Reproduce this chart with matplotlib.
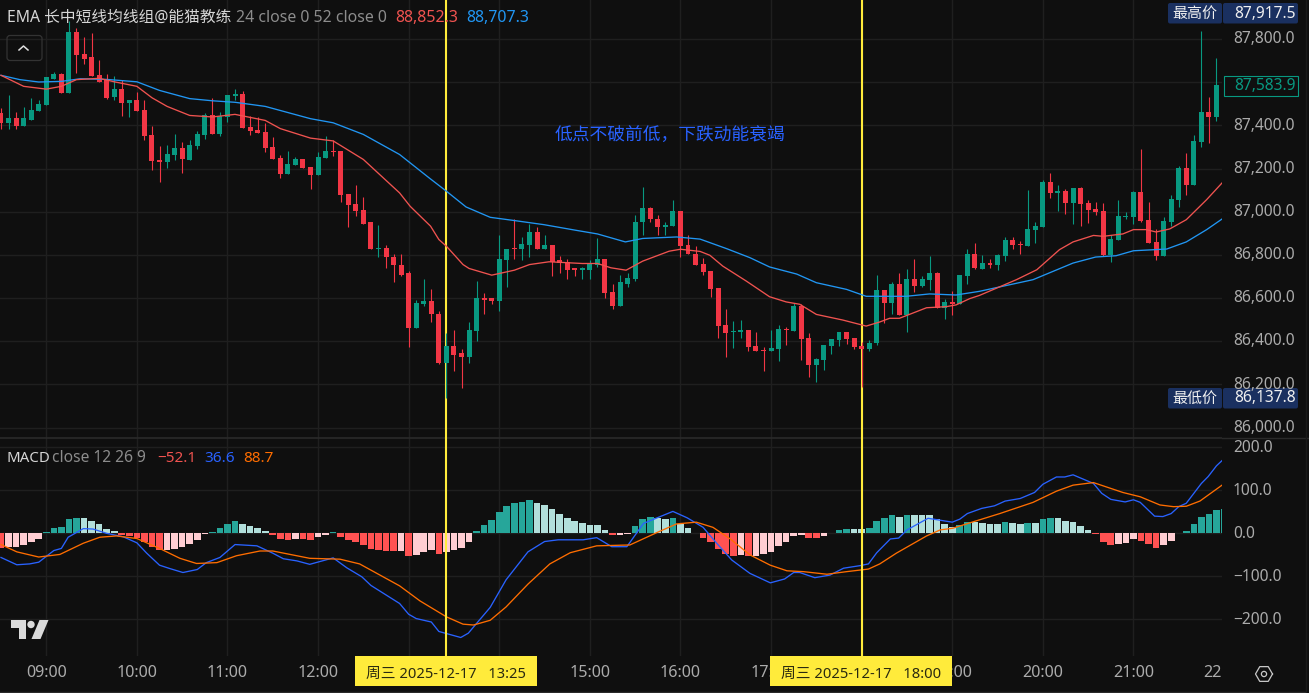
import matplotlib
matplotlib.use("Agg")
import matplotlib.pyplot as plt
from matplotlib.patches import Rectangle, FancyBboxPatch, Polygon, Circle
import numpy as np

plt.rcParams["font.family"] = ["Noto Sans", "Noto Sans CJK SC", "DejaVu Sans"]

# 5 minute bars, bar 0 is 09:00
opens = [87457,87411,87433,87396,87427,87465,87493,87616,87636,87548,87835,87729,87715,87632,87609,87530,87567,87502,87516,87470,
         87354,87238,87229,87261,87294,87241,87303,87354,87446,87358,87437,87534,87544,87391,87377,87368,87298,87247,87173,87215,
         87243,87206,87169,87247,87280,87280,87084,87038,87010,86950,86825,86834,86792,86755,86714,86463,86570,86584,86528,86297,
         86376,86343,86329,86445,86602,86598,86584,86778,86829,86825,86848,86908,86829,86848,86774,86765,86737,86732,86732,86755,
         86783,86626,86565,86667,86690,86950,87015,86968,86927,86936,87005,86848,86806,86756,86724,86645,86473,86441,86441,86450,
         86376,86358,86353,86362,86455,86446,86562,86413,86288,86312,86376,86404,86441,86413,86376,86362,86390,86636,86575,86663,
         86520,86687,86654,86682,86714,86552,86580,86571,86700,86802,86736,86764,86754,86796,86870,86852,86843,86917,86931,87139,
         87088,87097,87042,87111,87042,87014,87005,86801,86870,86977,86977,87093,86963,86861,86796,86954,87056,87204,87125,87324,
         87463,87440]
highs = [87480,87539,87462,87484,87525,87516,87622,87647,87642,87885,87851,87809,87829,87701,87639,87627,87609,87516,87553,87519,
         87396,87306,87307,87358,87321,87331,87372,87456,87525,87460,87539,87567,87558,87442,87437,87409,87344,87261,87280,87252,
         87243,87206,87275,87349,87331,87280,87084,87126,87070,86950,86940,86848,86802,86802,86723,86593,86686,86644,86542,86436,
         86450,86366,86487,86681,86621,86602,86890,86829,86968,86885,86945,86931,86890,86848,86797,86783,86737,86746,86774,86880,
         86783,86663,86709,86718,86987,87116,87024,86987,86950,87052,87005,86890,86843,86784,86724,86645,86548,86492,86497,86450,
         86441,86372,86450,86473,86464,86578,86571,86436,86321,86381,86409,86441,86441,86413,86395,86404,86705,86636,86673,86714,
         86733,86779,86701,86793,86719,86594,86631,86705,86826,86853,86801,86782,86806,86884,86884,86866,87102,86954,87148,87181,
         87125,87107,87111,87116,87056,87046,87042,86893,87056,87000,87097,87292,87046,86921,86977,87079,87213,87273,87357,87838,
         87533,87713]
lows = [87385,87385,87382,87396,87423,87465,87493,87613,87548,87548,87642,87683,87627,87601,87524,87516,87445,87437,87465,87331,
        87192,87136,87201,87238,87178,87238,87289,87335,87358,87349,87414,87516,87386,87354,87363,87275,87243,87155,87173,87215,
        87201,87104,87169,87247,87257,87043,86931,86978,86945,86825,86792,86737,86676,86704,86371,86463,86565,86491,86292,86139,
        86260,86185,86301,86403,86524,86570,86542,86653,86783,86774,86788,86825,86825,86704,86718,86690,86704,86690,86690,86746,
        86602,86547,86561,86649,86681,86894,86954,86894,86890,86936,86792,86802,86751,86705,86603,86413,86325,86367,86413,86353,
        86353,86260,86353,86307,86381,86446,86311,86233,86209,86265,86339,86376,86385,86362,86186,86353,86381,86483,86524,86520,
        86441,86626,86650,86636,86552,86501,86520,86571,86663,86733,86736,86741,86731,86773,86829,86805,86843,86856,86931,87065,
        87005,86991,86944,86935,86949,86986,86796,86768,86870,86968,86944,86954,86856,86778,86796,86935,87023,87079,87125,87301,
        87320,87421]
closes = [87411,87434,87396,87433,87470,87497,87622,87636,87548,87835,87724,87709,87627,87601,87528,87567,87502,87516,87465,87349,
          87233,87230,87266,87294,87243,87307,87358,87446,87358,87442,87539,87544,87386,87372,87363,87294,87243,87173,87220,87243,
          87201,87169,87252,87280,87275,87076,87033,87005,86945,86825,86834,86788,86751,86709,86463,86579,86584,86524,86297,86376,
          86338,86329,86450,86602,86593,86584,86783,86829,86825,86852,86908,86829,86848,86769,86760,86732,86732,86737,86760,86783,
          86621,86565,86672,86695,86954,87015,86964,86927,86940,87005,86843,86802,86751,86719,86640,86469,86436,86446,86450,86372,
          86353,86353,86367,86455,86450,86562,86409,86288,86316,86381,86409,86441,86409,86372,86362,86390,86636,86575,86663,86520,
          86687,86654,86687,86714,86552,86580,86571,86705,86802,86738,86764,86753,86801,86870,86847,86847,86921,86935,87139,87088,
          87097,87042,87111,87037,87009,87000,86801,86875,86981,86981,87093,86958,86856,86796,86958,87060,87204,87125,87329,87463,
          87440,87588]
first_bar = -6

ema24_x = [-6,-3,0,2,4,7,9,12,14,16,19,22,25,29,31,35,38,42,46.8,48.2,50.9,52,53,55.2,56,59,62,64,66.6,71,73,74.8,76.8,79,82.5,84,
           86.6,87.9,89.6,92.7,95.8,98,99.8,102,105.5,108.6,110.4,111.7,113,116.6,119.2,120.5,122.3,123.6,128.5,131.2,134.2,136,
           138.7,140,142.6,144,145.7,147,148.8,151,153.7,155.73]
ema24 = [87632,87581,87568,87581,87612,87618,87602,87581,87528,87488,87446,87439,87451,87423,87385,87341,87328,87242,87087,87025,
         86933,86871,86840,86755,86737,86706,86729,86755,86768,86760,86760,86740,86729,86771,86817,86826,86816,86798,86748,86679,
         86606,86582,86571,86524,86498,86470,86489,86506,86506,86555,86560,86568,86597,86612,86685,86731,86824,86860,86890,86886,
         86897,86917,86917,86906,86920,86963,87056,87133]
ema52_x = [-6,-3.5,-1,2,4.5,8,12,15,19,22,25,29,35,38,42,46.8,50.7,53,55.6,58.8,62,65.9,70.3,73,76.7,79,83.5,86.6,90.1,93.2,95.8,
           99.4,102,106,108.6,113.9,117,120.5,123.6,130.7,136,139,141.7,144,148.4,151,153.7,155.73]
ema52 = [87632,87612,87601,87604,87616,87613,87602,87562,87524,87514,87507,87488,87431,87412,87358,87265,87157,87095,87022,86974,
         86959,86940,86913,86897,86860,86876,86883,86873,86829,86787,86744,86711,86671,86640,86608,86608,86619,86614,86631,86685,
         86762,86790,86796,86819,86827,86860,86917,86966]

hist = [-33,-32.5,-32,-27,-20,-13,3,12,15,33,36,35.5,29,22,10,5,-4,-7,-11,-20,-32,-39,-38.5,-36,-32,-25,-15,-2,3,12,22,29,22,17,12,5,
        -4,-13,-15,-13,-13.5,-15,-9,-4,3,-9,-15,-20,-27,-36,-39,-41,-41.5,-41,-53,-50,-43,-39,-48,-43,-39,-34,-20,5,19,31,50,64,71,73,
        77,71,66,57,45,36,29,24,19,18.5,8,-4,-3.5,-2,17,33,38,36,33,36,22,12,1,-11,-20,-36,-48,-53,-50,-53,-52.5,-48,-43,-29,-20,-6,
        -4,-11,-11.5,-6,1,8,10,9.8,9.5,12,29,36,43,38,43,42.8,42.5,42,33,22,15,19,26,25.8,24,22,21.8,26,24,22,24,23.8,33,36,35.8,29,
        26,17,8,-2,-20,-27,-25,-22,-13,-18,-25,-34,-27,-18,1,5,22,38,45,54,57]
macd_x = [-6,-3.9,-2.2,-1,1,2,2.9,4.9,6.2,8,10.2,12,13.3,15,16.4,18.1,20,21.2,23,25,27.9,30,31.4,33.2,34.9,38,39.8,41.8,43,46.8,48,49,
          51,52,54.9,55.9,58.8,60.9,63.8,66,67.8,71.1,72.9,74.9,76.9,79.1,80.9,83,84.9,87,88.8,90.8,93.2,95.9,97.8,99,99.8,101.8,
          103.8,105.6,107.8,108.9,110,111.8,112.9,114,116.8,120,121,122,123.9,125.6,127,129,130.9,132,133.8,134.9,136,138.7,139.8,
          141,142.9,144,144.9,146.8,147.9,149,150,151,153,153.9,155,155.73]
macd = [-56,-73,-71,-67,-40,-35,-9,11,10,0,-8,-22,-46,-74,-82,-91,-84,-68,-56,-26,-29,-46,-59,-64,-72,-57,-80,-101,-121,-163,-188,-198,
        -206,-228,-242,-232,-172,-108,-43,-19,-15,-15,-10,-31,-31,23,36,51,36,14,-23,-62,-93,-115,-106,-91,-91,-103,-97,-81,-75,-71,
        -45,-13,-11,8,35,26,33,46,58,64,75,81,95,114,131,131,136,116,93,79,73,78,72,40,39,46,62,70,116,132,157,169]
signal_x = [-6,-3.9,-1,1.8,4.9,7.1,9.3,12,15,17.7,19.9,22.6,25.2,28.3,30,34.9,38.9,41.5,46.8,49.5,53,55.2,56.6,58.8,60.9,63.8,66.7,69.4,
            72.9,77.3,80.9,83.5,86.1,88.3,90.6,93.2,95.9,98.1,100.3,103.4,106,108.9,110.4,112.6,116.6,118.4,120.1,122.8,126.3,130.7,
            133.8,136,138.7,142.6,144.9,147.5,149.3,151,152.8,155.73]
signal = [-26,-43,-55,-49,-23,-9,-6,-12,-35,-58,-70,-68,-52,-41,-41,-58,-60,-71,-122,-157,-194,-211,-213,-202,-171,-118,-71,-45,-29,-27,
          2,22,26,14,-13,-50,-74,-87,-89,-95,-89,-83,-71,-46,-6,8,12,27,46,72,98,112,118,95,85,66,62,63,75,112]

price_ticks = [87800,87400,87200,87000,86800,86600,86400,86200,86000]
price_grid = [87800,87600,87400,87200,87000,86800,86600,86400,86200,86000]
macd_ticks = [200,100,0,-100,-200]
# 13:00, 14:00 and 18:00 sit fully under the yellow time tags
hour_labels = ["09:00","10:00","11:00","12:00","","","15:00","16:00","17:00","","19:00","20:00","21:00","22:00"]
marked_bars = [53, 108]

BG = "#0F0F0F"
GRID = "#1F1F1F"
AXIS_TXT = "#ABABAB"
UP = "#089981"
DOWN = "#F23645"
YELLOW = "#FFEB3B"
NAVY = "#1A3060"
W, H = 1309, 693
PANE_R = 1222
X_RANGE = (-6.13, 155.73)
M_TOP, M_BOT = 223.9, -285


def pane(top, bottom, right=PANE_R):
    a = fig.add_axes([0, 1 - bottom / H, right / W, (bottom - top) / H])
    a.set_facecolor(BG)
    for s in a.spines.values():
        s.set_visible(False)
    a.tick_params(left=False, bottom=False, labelleft=False, labelbottom=False)
    a.set_xlim(*X_RANGE)
    return a


fig = plt.figure(figsize=(W / 100, H / 100), dpi=100, facecolor=BG)

# price pane
ax = pane(0, 437)
ax.set_ylim(85956, 87981)
hour_pos = np.arange(len(hour_labels)) * 12
ax.set_xticks(hour_pos[hour_pos < X_RANGE[1]])
ax.set_yticks(price_grid)
ax.grid(color=GRID, lw=1)
ax.set_axisbelow(True)
for b in marked_bars:
    ax.axvline(b, color=YELLOW, lw=1.5, zorder=1.5)

o, h, l, c = map(np.array, (opens, highs, lows, closes))
bars = first_bar + np.arange(len(o))
colors = np.where(c >= o, UP, DOWN)
ax.vlines(bars, l, h, colors=colors, lw=0.8, zorder=2)
ax.bar(bars, np.maximum(np.abs(c - o), 5), bottom=np.minimum(o, c), width=0.66, color=colors, zorder=2.1)
ax.plot(ema52_x, ema52, color="#2196F3", lw=0.95, zorder=3)
ax.plot(ema24_x, ema24, color="#F05350", lw=0.95, zorder=3)

# macd pane
mx = pane(437, 656)
mx.set_ylim(M_BOT, M_TOP)
mx.set_xticks(hour_pos[hour_pos < X_RANGE[1]])
mx.set_yticks(macd_ticks)
mx.grid(color=GRID, lw=1)
mx.set_axisbelow(True)
mx.axhline(M_TOP - 1.2, color="#2A2A2A", lw=1.2, zorder=1)
for b in marked_bars:
    mx.axvline(b, color=YELLOW, lw=1.5, zorder=3.5)

hist_colors = []
prev = None
for v in hist:
    rising = prev is None or v > prev
    if v >= 0:
        hist_colors.append("#26A69A" if rising else "#B2DFDB")
    else:
        hist_colors.append("#FFCDD2" if (rising and prev is not None) else "#FF5252")
    prev = v
mx.bar(first_bar + np.arange(len(hist)), hist, width=0.88, color=hist_colors, zorder=2)
mx.plot(macd_x, macd, color="#2962FF", lw=0.95, zorder=3)
mx.plot(signal_x, signal, color="#FF6D00", lw=0.95, zorder=3)

# time axis, labels get clipped at the pane edge
tx = pane(656, 691)
tx.set_ylim(1, 0)
for pos, lab in zip(hour_pos, hour_labels):
    if lab:
        tx.text(pos, 0.49, lab, color=AXIS_TXT, fontsize=11.6, ha="center", va="center", clip_on=True)

# overlay in pixels for labels and chrome
ov = fig.add_axes([0, 0, 1, 1], facecolor="none")
ov.set_xlim(0, W)
ov.set_ylim(H, 0)
ov.axis("off")

ov.plot([1222, W], [437.5, 437.5], color="#2A2A2A", lw=1)
ov.plot([0, 1305], [691.5, 691.5], color="#2A2A2A", lw=1)
ov.plot([1305.5, 1305.5], [0, 692], color="#1A1A1A", lw=1)

# right axis labels
price_y = lambda p: 437 * (87981 - p) / (87981 - 85956)
macd_y = lambda v: 437 + 219 * (M_TOP - v) / (M_TOP - M_BOT)
for p in price_ticks:
    ov.text(1233, price_y(p) + 0.3, f"{p:,.1f}", color=AXIS_TXT, fontsize=11.2, va="center")
for v in macd_ticks:
    lab = f"{v:.1f}".replace("-", "\u2212")
    ov.text(1233, macd_y(v) + 0.3, lab, color=AXIS_TXT, fontsize=11.2, va="center")

# legends
ov.text(7, 18, "EMA 长中短线均线组@能猫教练", color="#D6D6D6", fontsize=11.3, va="center")
ov.text(236, 18, "24 close 0 52 close 0", color="#8C8C8C", fontsize=11.4, va="center")
ov.text(395, 18, "88,852.3", color="#F05350", fontsize=11.5, va="center")
ov.text(466, 18, "88,707.3", color="#2196F3", fontsize=11.5, va="center")
ov.text(7, 458.5, "MACD", color="#D6D6D6", fontsize=10.8, va="center")
ov.text(52, 458.5, "close 12 26 9", color="#8C8C8C", fontsize=11.2, va="center")
ov.text(157, 458.5, "\u221252.1", color="#F05350", fontsize=11, va="center")
ov.text(204, 458.5, "36.6", color="#2962FF", fontsize=11, va="center")
ov.text(243, 458.5, "88.7", color="#FF6D00", fontsize=11, va="center")

# annotation
ov.text(555, 135, "低点不破前低，下跌动能衰竭", color="#2962FF", fontsize=12.75, va="center")

# high / low / last tags
for y0, name, val in [(3, "最高价", "87,917.5"), (388, "最低价", "86,137.8")]:
    ov.add_patch(FancyBboxPatch((1168, y0), 54, 20.5, boxstyle="round,pad=0,rounding_size=2", fc=NAVY, ec="none"))
    ov.add_patch(FancyBboxPatch((1223, y0), 75, 20.5, boxstyle="round,pad=0,rounding_size=2", fc=NAVY, ec="none"))
    ov.text(1195, y0 + 11, name, color="#F0F0F0", fontsize=10.8, ha="center", va="center")
    ov.text(1234, y0 + 10.5, val, color="#F0F0F0", fontsize=11.2, va="center")
ov.add_patch(Rectangle((1223.5, 75.5), 74, 20, fc=BG, ec=UP, lw=0.8))
ov.text(1234, 85.5, "87,583.9", color=UP, fontsize=11.2, va="center")

# time tags over the marked bars
for x0, lab in [(355, "周三 2025-12-17   13:25"), (770, "周三 2025-12-17   18:00")]:
    ov.add_patch(Rectangle((x0, 656), 181.5, 30, fc=YELLOW, ec="none", zorder=4))
    ov.text(x0 + 91, 674, lab, color="#2A2A10", fontsize=10.6, ha="center", va="center", zorder=5)

# collapse button
ov.add_patch(FancyBboxPatch((7, 35.5), 35, 25, boxstyle="round,pad=0,rounding_size=3", fc="none", ec="#333333", lw=0.9))
ov.plot([19, 23.5, 28], [50, 46, 50], color="#E0E0E0", lw=1.1)

# logo
LOGO = "#DADADA"
ov.add_patch(Polygon([(11, 620), (26, 620), (26, 639), (18.5, 639), (18.5, 627.5), (11, 627.5)], fc=LOGO, ec="none"))
ov.add_patch(Circle((31, 624.5), 3.7, fc=LOGO, ec="none"))
ov.add_patch(Polygon([(39.5, 620), (48.5, 620), (40.5, 639), (31.5, 639)], fc=LOGO, ec="none"))

# settings icon
ang = np.deg2rad(np.arange(0, 361, 60))
ov.plot(1264 + 8.5 * np.cos(ang), 674 + 8.5 * np.sin(ang), color="#C8C8C8", lw=0.9)
ov.add_patch(Circle((1264, 674), 2.6, fc="none", ec="#C8C8C8", lw=0.9))

fig.savefig("out.png", dpi=100, facecolor=BG)
